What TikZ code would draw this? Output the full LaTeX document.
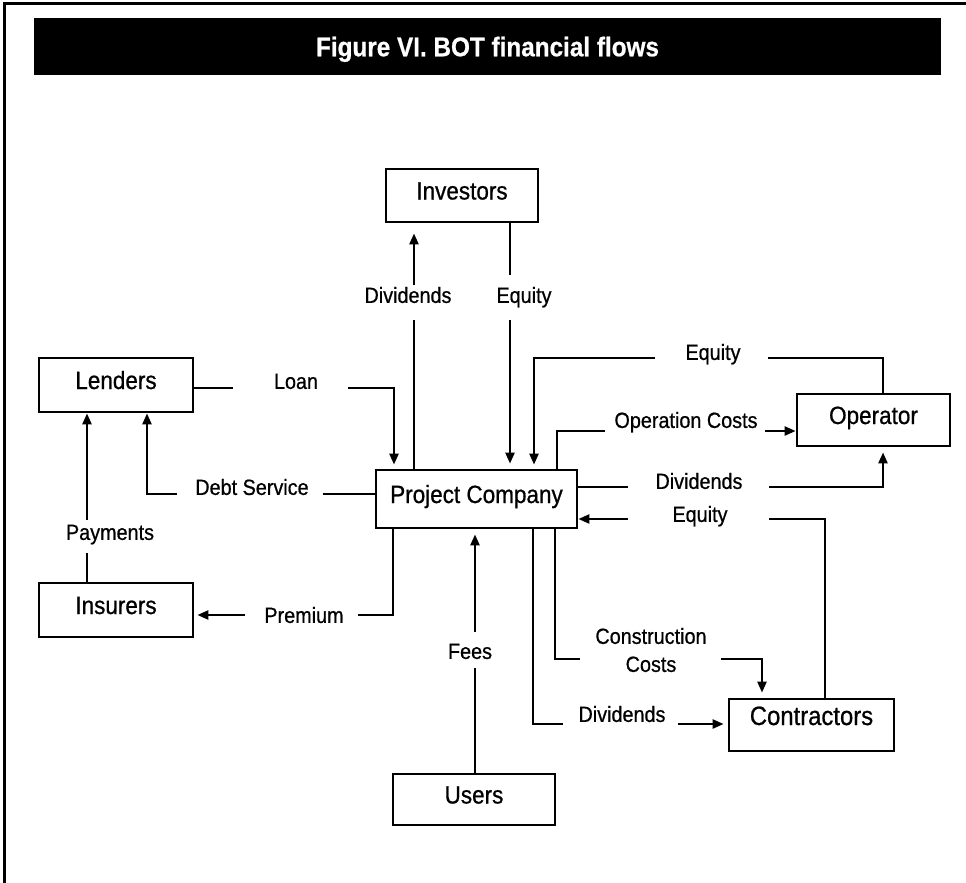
\documentclass[tikz,border=0pt]{standalone}
\usepackage{fontspec}
\setmainfont{Liberation Sans}[FakeStretch=0.9, FakeBold=0.7]
\usetikzlibrary{arrows.meta}
\begin{document}
\begin{tikzpicture}[x=1pt,y=-1pt,
  box/.style={draw, line width=2.8pt, inner sep=0pt,
    font=\fontsize{25}{30}\selectfont, text height=18pt, text depth=10pt},
  flow/.style={line width=2.4pt, -{Triangle[length=11pt,width=9pt]}},
  lblfont/.style={inner sep=0pt, font=\fontsize{22}{28}\selectfont},
  lbl/.style={lblfont, text height=15.8pt, text depth=0pt},
]
\useasboundingbox (0,0) rectangle (966,883);

% page frame (top and left rules)
\draw[line width=3pt] (966,4) -- (4,4) -- (4,883);

% title bar
\node[fill=black, minimum width=907pt, minimum height=57pt, inner sep=0pt,
      text=white, font=\bfseries\fontsize{27}{32}\selectfont,
      text height=19.5pt, text depth=0pt] (title) at (487.5,46.5)
      {Figure VI. BOT financial flows};

% parties
\node[box, minimum width=152pt, minimum height=53pt] (inv)   at (462,195.5) {Investors};
\node[box, minimum width=154pt, minimum height=54pt] (lend)  at (116,385)   {Lenders};
\node[box, minimum width=154pt, minimum height=54pt] (ins)   at (116,610)   {Insurers};
\node[box, minimum width=201pt, minimum height=58pt] (pc)    at (476.5,499) {Project Company};
\node[box, minimum width=153pt, minimum height=52pt] (op)    at (873.5,420) {Operator};
\node[box, minimum width=165pt, minimum height=52pt,
      font=\fontsize{26.5}{31}\selectfont, text height=19pt, text depth=19pt]
      (con)   at (811.5,725) {Contractors};
\node[box, minimum width=162pt, minimum height=51pt] (users) at (474,799.5) {Users};

% investors
\draw[flow, shorten >=10pt] (414,0 |- pc.north) -- (414,320) (414,285) -- (414,0 |- inv.south);
\draw[flow, shorten >=5pt]  (510,0 |- inv.south) -- (510,275) (510,320) -- (510,0 |- pc.north);

% lenders and insurers
\draw[flow, shorten >=4pt] (lend.east |- 0,388) -- (233,388) (348,388) -| (394,0 |- pc.north);
\draw[flow] (pc.west |- 0,494) -- (323,494) (177,494) -| (147,0 |- lend.south);
\draw[flow, shorten >=3pt] (393,0 |- pc.south) |- (358,615) (245,615) -- (ins.east |- 0,615);
\draw[flow] (87,0 |- ins.north) -- (87,553) (87,520) -- (87,0 |- lend.south);

% operator
\draw[flow, shorten >=4pt] (883,0 |- op.north) |- (768,358) (655,358) -| (534,0 |- pc.north);
\draw[flow] (557,0 |- pc.north) |- (605,431) (765,431) -- (op.west |- 0,431);
\draw[flow, shorten >=5pt] (pc.east |- 0,487) -- (628,487) (769,487) -| (883,0 |- op.south);

% contractors
\draw[flow] (825,0 |- con.north) |- (769,519) (628,519) -- (pc.east |- 0,519);
\draw[flow, shorten >=5pt] (555,0 |- pc.south) |- (580,659) (721,659) -| (762,0 |- con.north);
\draw[flow, shorten >=4pt] (533,0 |- pc.south) |- (563,724) (678,724) -- (con.west |- 0,724);

% users
\draw[flow, shorten >=5pt] (475,0 |- users.north) -- (475,668) (475,632) -- (475,0 |- pc.south);

% flow labels
\node[lbl] (l-invdiv)  at (408,295) {Dividends};
\node[lbl] (l-inveq)   at (524,295) {Equity};
\node[lbl] (l-loan)    at (296,381) {Loan};
\node[lbl] (l-debt)    at (252,487) {Debt Service};
\node[lbl] (l-prem)    at (304,615) {Premium};
\node[lbl] (l-pay)     at (110,532) {Payments};
\node[lbl] (l-opeq)    at (713,352) {Equity};
\node[lbl] (l-opcost)  at (686,420) {Operation Costs};
\node[lbl] (l-opdiv)   at (699,481) {Dividends};
\node[lbl] (l-coneq)   at (700,514) {Equity};
\node[lblfont, align=center] (l-concost) at (651,650) {Construction\\Costs};
\node[lbl] (l-condiv)  at (622,714) {Dividends};
\node[lbl] (l-fees)    at (470,651) {Fees};
\end{tikzpicture}
\end{document}
